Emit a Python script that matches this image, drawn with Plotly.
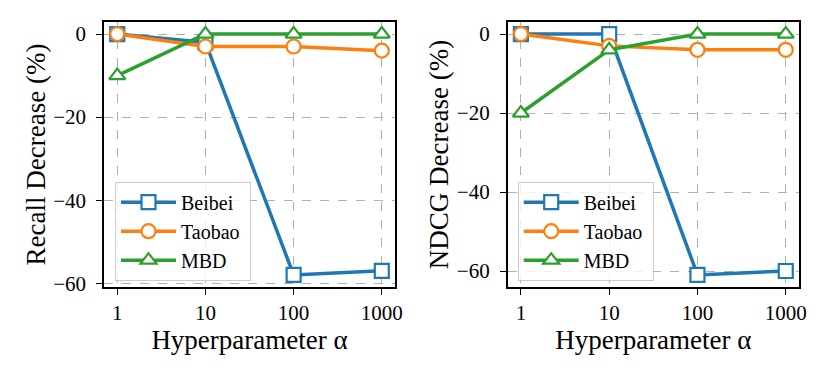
import plotly.graph_objects as go
from plotly.subplots import make_subplots

alphas = [1, 10, 100, 1000]
tick_text = ["1", "10", "100", "1000"]
y_ticks = [0, -20, -40, -60]
y_tick_text = ["0", "\u221220", "\u221240", "\u221260"]

# recall decrease (%)
recall_beibei = [0, -2, -58, -57]
recall_taobao = [0, -3, -3, -4]
recall_mbd = [-10, 0, 0, 0]

# ndcg decrease (%)
ndcg_beibei = [0, 0, -61, -60]
ndcg_taobao = [0, -3, -4, -4]
ndcg_mbd = [-20, -4, 0, 0]

series_names = ["Beibei", "Taobao", "MBD"]
colors = ["#1f77b4", "#ff7f0e", "#2ca02c"]
symbols = ["square", "circle", "triangle-up"]

FONT = "Liberation Serif"

fig = make_subplots(rows=1, cols=2)

panels = [
    (1, "legend", [recall_beibei, recall_taobao, recall_mbd]),
    (2, "legend2", [ndcg_beibei, ndcg_taobao, ndcg_mbd]),
]
for col, leg, data in panels:
    for name, vals, c, s in zip(series_names, data, colors, symbols):
        fig.add_trace(go.Scatter(
            x=alphas, y=vals, name=name + "\u00a0", mode="lines+markers",
            line=dict(color=c, width=3.5),
            marker=dict(symbol=s, size=14, color="white",
                        line=dict(color=c, width=2.2)),
            legend=leg,
        ), row=1, col=col)

axis_common = dict(
    showline=True, mirror=True, linecolor="black", linewidth=1.5,
    ticks="outside", ticklen=6, tickwidth=1.2, tickcolor="black",
    showgrid=True, gridcolor="#b0b0b0", griddash="dash", gridwidth=1,
    zeroline=False, automargin=False,
    tickfont=dict(family=FONT, size=21, color="black"),
)

title_font = dict(family=FONT, size=27, color="black")

fig.update_xaxes(type="log", range=[-0.15, 3.15], tickvals=alphas, ticktext=tick_text,
                 title=dict(text="Hyperparameter α", font=title_font, standoff=0),
                 **axis_common)
fig.update_yaxes(tickvals=y_ticks, ticktext=y_tick_text, ticklabelstandoff=6, **axis_common)

# page body has an 8px margin, so domains are shifted by 8px
legend_style = dict(xanchor="left", yanchor="top", itemwidth=55,
                    bgcolor="rgba(255,255,255,0.8)", bordercolor="#cccccc", borderwidth=1,
                    font=dict(family=FONT, size=20, color="black"))

fig.update_layout(
    xaxis=dict(domain=[0.1157, 0.4663]),
    xaxis2=dict(domain=[0.6020, 0.9530]),
    yaxis=dict(domain=[0.2619, 0.963], range=[-60.9, 2.9],
               title=dict(text="Recall Decrease (%)", font=title_font, standoff=0)),
    yaxis2=dict(domain=[0.2619, 0.963], range=[-64.05, 3.05],
                title=dict(text="NDCG Decrease (%)", font=title_font, standoff=0)),
    width=830, height=378,
    margin=dict(l=0, r=0, t=0, b=0),
    plot_bgcolor="white", paper_bgcolor="white",
    font=dict(family=FONT, color="black"),
    legend=dict(x=0.1289, y=0.5405, **legend_style),
    legend2=dict(x=0.6141, y=0.5405, **legend_style),
)

fig.write_html("out.html")
